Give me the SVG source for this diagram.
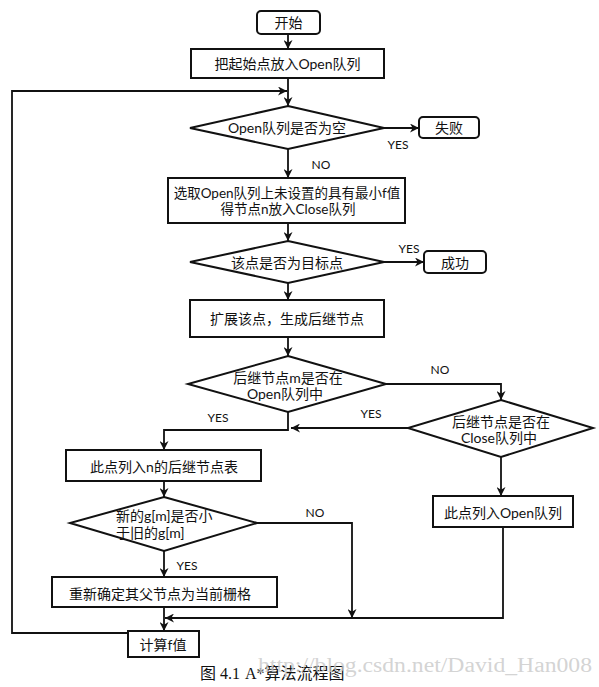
<svg xmlns="http://www.w3.org/2000/svg" width="599" height="687" viewBox="0 0 599 687">
<defs>
<style>
.box{fill:#fff;stroke:#111;stroke-width:2}
.ln{fill:none;stroke:#111;stroke-width:1.8}
.arr{marker-end:url(#ah)}
.t{font-family:"Lato","Noto Sans CJK SC",sans-serif;font-size:14px;fill:#111;text-anchor:middle;dominant-baseline:central}
.lb{font-family:"Lato","Noto Sans CJK SC",sans-serif;font-size:12px;fill:#111;text-anchor:middle;dominant-baseline:central}
.cap{font-family:"Liberation Serif","Noto Sans CJK SC",serif;font-size:16px;fill:#111}
.wm{font-family:"Liberation Serif",serif;font-size:20px;fill:#c8c8c8;fill-opacity:0.8}
</style>
<marker id="ah" viewBox="0 0 10 10" refX="10" refY="5" markerWidth="9" markerHeight="9" markerUnits="userSpaceOnUse" orient="auto">
<path d="M0,0 L10,5 L0,10 L3,5 z" fill="#111"/>
</marker>
</defs>
<rect width="599" height="687" fill="#fff"/>

<g id="connectors">
<line class="ln arr" x1="288" y1="34" x2="288" y2="49"/>
<line class="ln arr" x1="288" y1="78" x2="288" y2="106"/>
<polyline class="ln arr" points="128,633 12,633 12,91 287,91"/>
<line class="ln arr" x1="384" y1="128" x2="419" y2="128"/>
<line class="ln arr" x1="288" y1="149" x2="288" y2="178"/>
<line class="ln arr" x1="288" y1="223" x2="288" y2="241"/>
<line class="ln arr" x1="384" y1="262" x2="424" y2="262"/>
<line class="ln arr" x1="288" y1="283" x2="288" y2="300"/>
<line class="ln arr" x1="288" y1="337" x2="288" y2="356"/>
<polyline class="ln arr" points="386,384 501,384 501,400"/>
<line class="ln arr" x1="408" y1="428" x2="291" y2="428"/>
<polyline class="ln arr" points="288,412 288,430 164,430 164,450"/>
<line class="ln arr" x1="164" y1="481" x2="164" y2="497"/>
<polyline class="ln arr" points="257,523 352,523 352,618"/>
<line class="ln arr" x1="164" y1="551" x2="164" y2="577"/>
<line class="ln arr" x1="501" y1="457" x2="501" y2="496"/>
<polyline class="ln arr" points="503,527 503,618 165,618"/>
<line class="ln arr" x1="164" y1="607" x2="164" y2="631"/>
<text class="lb" x="398" y="144">YES</text>
<text class="lb" x="321" y="164">NO</text>
<text class="lb" x="409" y="248">YES</text>
<text class="lb" x="440" y="369">NO</text>
<text class="lb" x="371" y="413">YES</text>
<text class="lb" x="218" y="417">YES</text>
<text class="lb" x="315" y="512">NO</text>
<text class="lb" x="187" y="565">YES</text>
</g>

<g id="start">
<rect class="box" x="257" y="11" width="63" height="23" rx="4"/>
<text class="t" x="288.5" y="22.5">开始</text>
</g>
<g id="putStart">
<rect class="box" x="191" y="49" width="193" height="29"/>
<text class="t" x="287.5" y="63.5">把起始点放入Open队列</text>
</g>
<g id="openEmpty">
<polygon class="box" points="288,106 384,128 288,149 190,128"/>
<text class="t" x="287" y="127.5">Open队列是否为空</text>
</g>
<g id="fail">
<rect class="box" x="419" y="117" width="60" height="21" rx="4"/>
<text class="t" x="449" y="127.5">失败</text>
</g>
<g id="select">
<rect class="box" x="168" y="178" width="237" height="45"/>
<text class="t" x="287" y="193" style="font-size:13.5px">选取Open队列上未设置的具有最小f值</text>
<text class="t" x="288" y="209" style="font-size:13.5px">得节点n放入Close队列</text>
</g>
<g id="isGoal">
<polygon class="box" points="288,241 384,262 288,283 190,262"/>
<text class="t" x="287" y="262">该点是否为目标点</text>
</g>
<g id="success">
<rect class="box" x="424" y="251" width="62" height="22" rx="4"/>
<text class="t" x="455" y="262">成功</text>
</g>
<g id="expand">
<rect class="box" x="190" y="300" width="194" height="37"/>
<text class="t" x="287" y="318.5">扩展该点，生成后继节点</text>
</g>
<g id="inOpen">
<polygon class="box" points="288,356 386,384 288,412 188,384"/>
<text class="t" x="288" y="377">后继节点m是否在</text>
<text class="t" x="285" y="393">Open队列中</text>
</g>
<g id="inClose">
<polygon class="box" points="501,400 593,428 501,457 408,428"/>
<text class="t" x="501" y="421">后继节点是否在</text>
<text class="t" x="499" y="437">Close队列中</text>
</g>
<g id="addSucc">
<rect class="box" x="66" y="450" width="195" height="31"/>
<text class="t" x="164" y="466">此点列入n的后继节点表</text>
</g>
<g id="addOpen">
<rect class="box" x="433" y="496" width="140" height="31"/>
<text class="t" x="503" y="512">此点列入Open队列</text>
</g>
<g id="compareG">
<polygon class="box" points="164,497 257,523 164,551 70,523"/>
<text class="t" x="116" y="515" style="text-anchor:start">新的g[m]是否小</text>
<text class="t" x="116" y="532" style="text-anchor:start">于旧的g[m]</text>
</g>
<g id="reparent">
<rect class="box" x="52" y="577" width="225" height="30"/>
<text class="t" x="160" y="593">重新确定其父节点为当前栅格</text>
</g>
<g id="calcF">
<rect class="box" x="128" y="631" width="71" height="26"/>
<text class="t" x="163" y="644">计算f值</text>
</g>

<g id="caption">
<text class="cap" x="200" y="679">图 4.1</text>
<text class="cap" x="245" y="679">A*算法流程图</text>
<text class="wm" x="258" y="672" textLength="334" lengthAdjust="spacingAndGlyphs">http://blog.csdn.net/David_Han008</text>
</g>
</svg>
